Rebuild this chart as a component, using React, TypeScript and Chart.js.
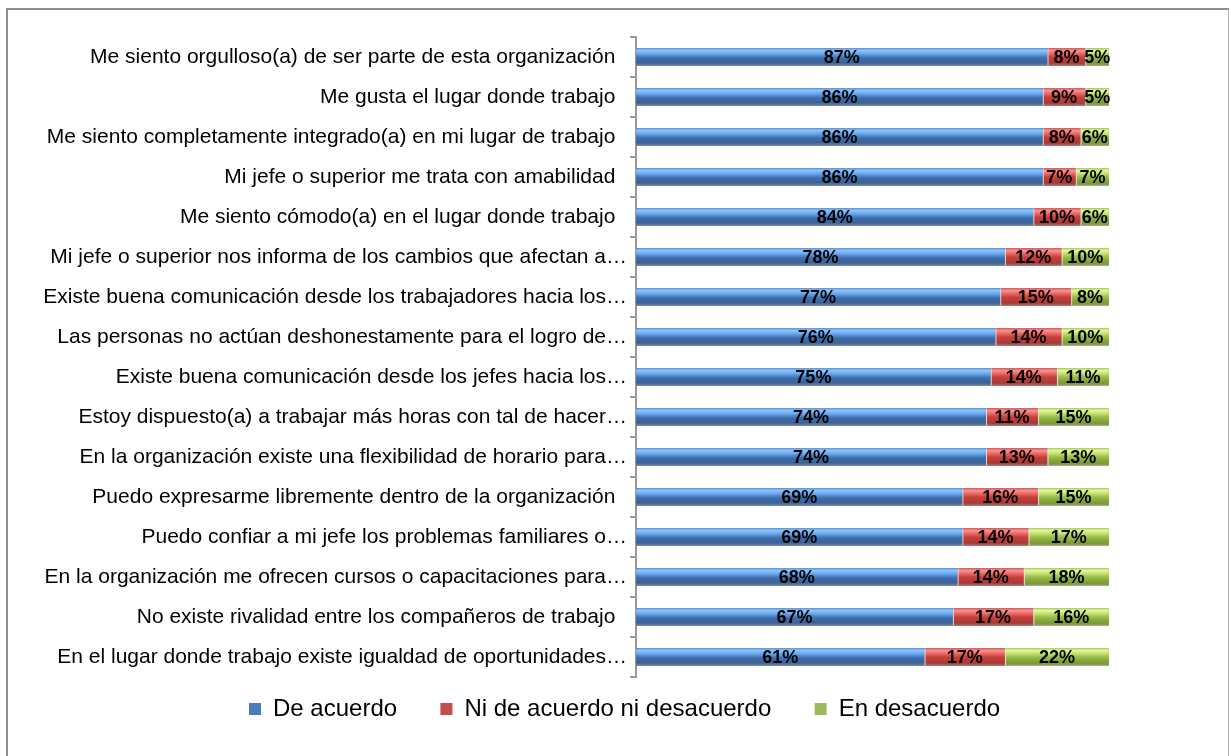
import React, { useEffect, useRef } from "react";
import { Chart, registerables } from "chart.js";
Chart.register(...registerables);

const categories = [
  "Me siento orgulloso(a) de ser parte de esta organización  ",
  "Me gusta el lugar donde trabajo  ",
  "Me siento completamente integrado(a) en mi lugar de trabajo  ",
  "Mi jefe o superior me trata con amabilidad  ",
  "Me siento cómodo(a) en el lugar donde trabajo  ",
  "Mi jefe o superior nos informa de los cambios que afectan a…",
  "Existe buena comunicación desde los trabajadores hacia los…",
  "Las personas no actúan deshonestamente para el logro de…",
  "Existe buena comunicación desde los jefes hacia los…",
  "Estoy dispuesto(a) a trabajar más horas con tal de hacer…",
  "En la organización existe una flexibilidad de horario para…",
  "Puedo expresarme libremente dentro de la organización  ",
  "Puedo confiar a mi jefe los problemas familiares o…",
  "En la organización me ofrecen cursos o capacitaciones para…",
  "No existe rivalidad entre los compañeros de trabajo  ",
  "En el lugar donde trabajo existe igualdad de oportunidades…",
];

const seriesNames = ["De acuerdo", "Ni de acuerdo ni desacuerdo", "En desacuerdo"];
const deAcuerdo = [87, 86, 86, 86, 84, 78, 77, 76, 75, 74, 74, 69, 69, 68, 67, 61];
const niDeAcuerdo = [8, 9, 8, 7, 10, 12, 15, 14, 14, 11, 13, 16, 14, 14, 17, 17];
const enDesacuerdo = [5, 5, 6, 7, 6, 10, 8, 10, 11, 15, 13, 15, 17, 18, 16, 22];

const flatColors = ["#4a7ebb", "#c0504d", "#9bbb59"];
const gradientStops: [number, string][][] = [
  [
    [0, "#5d98df"],
    [0.12, "#8cc5fa"],
    [0.3, "#6aa6ec"],
    [0.45, "#4f86cc"],
    [0.55, "#3f6fae"],
    [0.85, "#3a6199"],
    [0.9, "#54708f"],
    [1, "#6b7f99"],
  ],
  [
    [0, "#d9534f"],
    [0.12, "#f79391"],
    [0.3, "#e86a66"],
    [0.5, "#c9403c"],
    [0.85, "#a63a37"],
    [1, "#9a6a6a"],
  ],
  [
    [0, "#b5d65a"],
    [0.12, "#e3f59a"],
    [0.3, "#c5e171"],
    [0.5, "#9abd4a"],
    [0.85, "#7a9a35"],
    [1, "#8a9a70"],
  ],
];

const FONT = "'Liberation Sans', Arial, sans-serif";

const decorPlugin = {
  id: "decor",
  afterLayout(chart: any) {
    const lg = chart.legend;
    if (lg) {
      const w = lg.right - lg.left;
      lg.left = 231;
      lg.right = 231 + w;
    }
  },
  afterDatasetsDraw(chart: any) {
    const ctx = chart.ctx as CanvasRenderingContext2D;
    ctx.save();
    chart.data.datasets.forEach((ds: any, di: number) => {
      const meta = chart.getDatasetMeta(di);
      meta.data.forEach((el: any) => {
        const { x, y, base, height } = el.getProps(["x", "y", "base", "height"], true);
        const left = Math.min(x, base);
        const right = Math.max(x, base);
        const top = y - height / 2;
        const g = ctx.createLinearGradient(0, top, 0, top + height);
        gradientStops[di].forEach(([o, c]) => g.addColorStop(o, c));
        ctx.fillStyle = g;
        ctx.fillRect(left, top, right - left, height);
        if (di > 0) {
          ctx.fillStyle = "rgba(230,230,230,0.9)";
          ctx.fillRect(left, top, 1, height);
        }
      });
    });
    ctx.font = "bold 18px " + FONT;
    ctx.textAlign = "center";
    ctx.textBaseline = "middle";
    ctx.fillStyle = "#000";
    chart.data.datasets.forEach((ds: any, di: number) => {
      const meta = chart.getDatasetMeta(di);
      meta.data.forEach((el: any, i: number) => {
        const { x, y, base } = el.getProps(["x", "y", "base"], true);
        ctx.fillText(ds.data[i] + "%", (x + base) / 2, y + 1);
      });
    });
    ctx.restore();
  },
};

export default function App() {
  const ref = useRef<HTMLCanvasElement>(null);
  useEffect(() => {
    if (!ref.current) return;
    const chart = new Chart(ref.current, {
      type: "bar",
      data: {
        labels: categories,
        datasets: [deAcuerdo, niDeAcuerdo, enDesacuerdo].map((d, i) => ({
          label: seriesNames[i],
          data: d,
          backgroundColor: flatColors[i],
          borderWidth: 0,
          barThickness: 17,
        })),
      },
      options: {
        indexAxis: "y",
        responsive: false,
        animation: false,
        layout: { padding: { left: 0, right: 119, top: 27, bottom: 25 } },
        scales: {
          x: {
            stacked: true,
            min: 0,
            max: 100,
            display: true,
            ticks: { display: false },
            grid: { display: false },
            border: { display: false },
            afterFit: (s: any) => {
              s.height = 10;
            },
          },
          y: {
            stacked: true,
            ticks: {
              color: "#000",
              padding: 3,
              font: { family: FONT, size: 21 },
            },
            grid: {
              drawOnChartArea: false,
              drawTicks: true,
              tickLength: 6,
              lineWidth: 2,
              color: "#999",
              offset: true,
            },
            border: { color: "#999", width: 2 },
            afterFit: (s: any) => {
              s.width = 628;
            },
          },
        },
        plugins: {
          legend: {
            position: "bottom",
            align: "start",
            labels: {
              boxWidth: 12,
              boxHeight: 12,
              padding: 10,
              color: "#000",
              font: { family: FONT, size: 24 },
              generateLabels: (c: any) => {
                const items = Chart.defaults.plugins.legend.labels.generateLabels(c);
                return items.map((it: any, i: number) => ({
                  ...it,
                  text: i < items.length - 1 ? it.text + "     " : it.text,
                }));
              },
            },
          },
          tooltip: { enabled: false },
        },
      },
      plugins: [decorPlugin],
    });
    return () => chart.destroy();
  }, []);
  return (
    <div
      style={{
        position: "fixed",
        left: 6,
        top: 8,
        width: 1223,
        height: 748,
        boxSizing: "border-box",
        borderTop: "2px solid #8e8e8e",
        borderLeft: "2px solid #8e8e8e",
        borderRight: "1px solid #b0b0b0",
        background: "#fff",
      }}
    >
      <canvas
        ref={ref}
        width={1220}
        height={746}
        style={{ position: "absolute", left: 0, top: 0, width: 1220, height: 746 }}
      />
    </div>
  );
}
